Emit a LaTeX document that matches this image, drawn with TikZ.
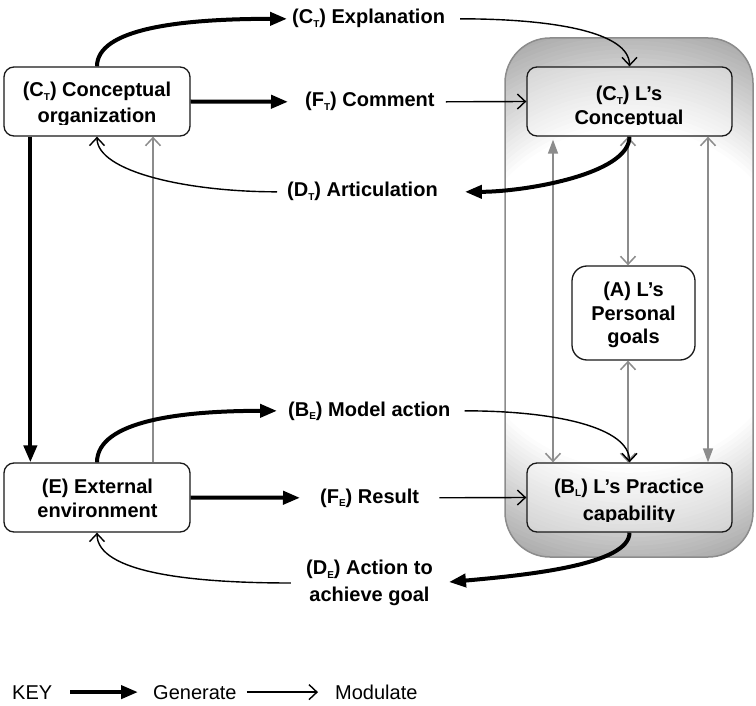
\documentclass[tikz,border=0pt]{standalone}
\usepackage{fontspec}
\setmainfont{Liberation Sans}
\usetikzlibrary{arrows.meta}
\newcommand\lsub[1]{\raisebox{-3.5pt}{\fontsize{10}{10}\selectfont #1}}
\begin{document}
\begin{tikzpicture}[x=1pt,y=-1pt,
  lbl/.style={font=\fontsize{20}{24}\selectfont\bfseries, inner sep=5pt},
  boxtxt/.style={font=\fontsize{20}{24}\selectfont\bfseries, inner sep=0pt, anchor=base},
  keytxt/.style={font=\fontsize{20}{24}\selectfont, inner sep=0pt, anchor=base west},
  box/.style={draw=black!90, line width=1.3pt, rounded corners=10pt, fill=white},
  lbox/.style={draw=black!90, line width=1.3pt, rounded corners=10pt, fill=white, fill opacity=0.35},
  gen/.style={line width=4pt, -{Triangle[length=17pt,width=13pt]}},
  mod/.style={line width=1.4pt, -{Straight Barb[length=8pt,width=15pt]}},
  gline/.style={draw=black!45, line width=1.5pt},
]
\useasboundingbox (0,0) rectangle (756,706);
\fill[white] (0,0) rectangle (756,706);

% shaded enclosure: concentric rings fading from gray at the rim to white
\begin{scope}
  \clip[rounded corners=45pt] (505,38) rectangle (753,557);
  \foreach \i in {0,...,30} {
    \pgfmathsetmacro\rr{300-\i*4.3}
    \pgfmathsetmacro\cc{40*(1-\i/30)}
    \fill[black!\cc] (629,297.5) circle (\rr pt);
  }
  \fill[white] (629,297.5) circle (170pt);
\end{scope}
\draw[draw=black!45, line width=1.5pt, rounded corners=45pt] (505,38) rectangle (753,557);

% boxes
\node[box, minimum width=186pt, minimum height=69pt] (ct) at (97,101.5) {};
\node[box, minimum width=186pt, minimum height=69pt] (e) at (97,497.5) {};
\node[lbox, minimum width=205pt, minimum height=69pt] (ctl) at (629.5,101.5) {};
\node[lbox, minimum width=205pt, minimum height=69pt] (bl) at (629.5,497.5) {};
\node[box, rounded corners=15pt, minimum width=123pt, minimum height=94pt] (a) at (633.5,313) {};

% box texts
\begin{scope}
  \clip (4,67) rectangle (190,124.5);
  \node[boxtxt] (ct1) at (97,97) {(C\lsub{T}) Conceptual};
  \node[boxtxt] (ct2) at (97,123) {organization};
\end{scope}
\node[boxtxt] (e1) at (97.5,493) {(E) External};
\node[boxtxt] (e2) at (97.5,517) {environment};
\begin{scope}
  \clip (527,67) rectangle (732,125);
  \node[boxtxt] (ctl1) at (629,101) {(C\lsub{T}) L’s};
  \node[boxtxt] (ctl2) at (629,125) {Conceptual};
\end{scope}
\begin{scope}
  \clip (527,463) rectangle (732,521);
  \node[boxtxt] (bl1) at (629,493) {(B\lsub{L}) L’s Practice};
  \node[boxtxt] (bl2) at (629,520) {capability};
\end{scope}
\node[boxtxt] (a1) at (633.5,297) {(A) L’s};
\node[boxtxt] (a2) at (633.5,320) {Personal};
\node[boxtxt] (a3) at (633.5,343) {goals};

% labels
\node[lbl, anchor=base west] (expl) at (287,24) {(C\lsub{T}) Explanation};
\node[lbl, anchor=base west] (comm) at (300,107) {(F\lsub{T}) Comment};
\node[lbl, anchor=base west] (artic) at (282,197) {(D\lsub{T}) Articulation};
\node[lbl, anchor=base west] (model) at (283,416) {(B\lsub{E}) Model action};
\node[lbl, anchor=base west] (res) at (315,503) {(F\lsub{E}) Result};
\node[lbl, align=center, font=\fontsize{20}{27}\selectfont\bfseries] (act) at (369.5,583) {(D\lsub{E}) Action to\\achieve goal};

% internal gray links
\coordinate (xa) at (553,0);
\coordinate (xb) at (628,0);
\coordinate (xc) at (708,0);
\draw[gline, {Triangle[length=14pt,width=10pt]}-{Straight Barb[length=8pt,width=15pt]}, shorten <=3pt]
  (ctl.south -| xa) -- (bl.north -| xa);
\draw[gline, {Straight Barb[length=8pt,width=15pt]}-{Straight Barb[length=8pt,width=15pt]}]
  (ctl.south -| xb) -- (a.north -| xb);
\draw[gline, {Straight Barb[length=8pt,width=15pt]}-{Straight Barb[length=8pt,width=15pt]}]
  (a.south -| xb) -- (bl.north -| xb);
\draw[gline, {Straight Barb[length=8pt,width=15pt]}-{Triangle[length=14pt,width=10pt]}]
  (ctl.south -| xc) -- (bl.north -| xc);

% left column
\draw[gen] ([xshift=27pt]ct.south west) -- ([xshift=27pt]e.north west);
\draw[gline, -{Straight Barb[length=8pt,width=15pt]}] ([xshift=56pt]e.north) -- ([xshift=56pt]ct.south);

% conceptual level
\draw[gen] (ct.north) .. controls +(0,-37) and +(-110,0) .. (expl.west);
\draw[mod, shorten <=10pt] (expl.east) .. controls +(100,0) and +(0,-35) .. (ctl.north);
\draw[gen, shorten >=12pt] (ct.east) -- (comm.west);
\draw[mod, shorten <=6pt] (comm.east) -- (ctl.west);
\draw[gen, shorten >=22pt] (ctl.south) .. controls +(0,38) and +(80,0) .. (artic.east);
\draw[mod, shorten <=5pt] (artic.west) .. controls +(-95,0) and +(0,35) .. (ct.south);

% practice level
\draw[gen, shorten >=6pt] (e.north) .. controls +(0,-42) and +(-100,0) .. (model.west);
\draw[mod, shorten <=9pt] (model.east) .. controls +(100,0) and +(0,-35) .. (bl.north);
\draw[gen, shorten >=15pt] (e.east) -- (res.west);
\draw[mod, shorten <=15pt] (res.east) -- (bl.west);
\draw[gen, shorten >=11pt] (bl.south) .. controls +(0,32) and +(90,-8) .. (act.east);
\draw[mod, shorten <=10pt] (act.west) .. controls +(-110,0) and +(0,40) .. (e.south);

% key
\node[keytxt] (key) at (12,699) {KEY};
\node[keytxt] (kgen) at (153,699) {Generate};
\node[keytxt] (kmod) at (335,699) {Modulate};
\draw[gen, shorten <=18pt, shorten >=15pt] (key.east) -- (key.east -| kgen.west);
\draw[line width=1.4pt, -{Straight Barb[length=8pt,width=15pt]}, shorten <=10pt, shorten >=17pt] (kgen.east |- key.east) -- (key.east -| kmod.west);
\end{tikzpicture}
\end{document}
